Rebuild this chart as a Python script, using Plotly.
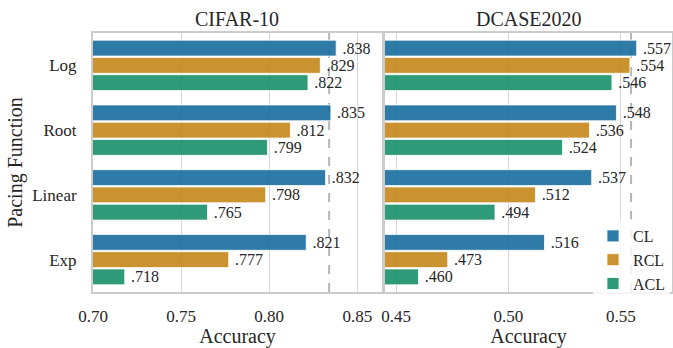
import plotly.graph_objects as go

# Accuracy per pacing function, for each training strategy
pacing = ["Log", "Root", "Linear", "Exp"]
series = ["CL", "RCL", "ACL"]

cifar_cl = [0.838, 0.835, 0.832, 0.821]
cifar_rcl = [0.829, 0.812, 0.798, 0.777]
cifar_acl = [0.822, 0.799, 0.765, 0.718]

dcase_cl = [0.557, 0.548, 0.537, 0.516]
dcase_rcl = [0.554, 0.536, 0.512, 0.473]
dcase_acl = [0.546, 0.524, 0.494, 0.460]

# Baseline accuracy (dashed reference line) per dataset
baseline = [0.834, 0.5545]

cifar_ticks = [0.70, 0.75, 0.80, 0.85]
dcase_ticks = [0.45, 0.50, 0.55]

colors = ["rgba(23,109,158,0.9)", "rgba(197,134,26,0.9)", "rgba(23,143,105,0.9)"]
FONT = "Liberation Serif"
TXT = "#262626"
GRID = "#d5d5d5"
FRAME = "#cccccc"


def lab(v):
    # ".838" style, with a small lead-in gap from the bar end
    return "\u2009" + f"{v:.3f}".lstrip("0")


fig = go.Figure()

panels = [
    ("x", "y", [cifar_cl, cifar_rcl, cifar_acl]),
    ("x2", "y2", [dcase_cl, dcase_rcl, dcase_acl]),
]
for p, (xa, ya, vals) in enumerate(panels):
    for name, v, c in zip(series, vals, colors):
        fig.add_trace(go.Bar(
            x=v, y=pacing, name=name, orientation="h",
            xaxis=xa, yaxis=ya,
            marker=dict(color=c, line=dict(color="white", width=0.8)),
            text=[lab(a) for a in v], textposition="outside",
            textfont=dict(family=FONT, size=16, color=TXT),
            constraintext="none", cliponaxis=False,
            showlegend=(p == 1), legendgroup=name,
            offsetgroup=name,
        ))

W, H = 673, 348
xd1 = [93 / W, 382 / W]
xd2 = [385 / W, 672 / W]
yd = [(H - 292) / H, (H - 33) / H]

common_x = dict(
    showgrid=True, gridcolor=GRID, gridwidth=1.3,
    showline=True, linecolor=FRAME, linewidth=2, mirror=True,
    zeroline=False, ticks="", tickformat=".2f", automargin=False,
    tickfont=dict(family=FONT, size=17, color=TXT),
    ticklabelstandoff=8,
    title=dict(text="Accuracy", font=dict(family=FONT, size=20, color=TXT), standoff=2),
)
common_y = dict(
    type="category", categoryorder="array", categoryarray=pacing,
    range=[3.5, -0.5], showgrid=False, automargin=False,
    showline=True, linecolor=FRAME, linewidth=2, mirror=True,
    ticks="", domain=yd,
)

fig.update_layout(
    width=W, height=H,
    margin=dict(l=0, r=0, t=0, b=0, autoexpand=False),
    paper_bgcolor="white", plot_bgcolor="white",
    barmode="group", bargap=0.2, bargroupgap=0.08,
    font=dict(family=FONT, color=TXT),
    xaxis=dict(common_x, domain=xd1, anchor="y", range=[0.70, 0.864], tickvals=cifar_ticks),
    xaxis2=dict(common_x, domain=xd2, anchor="y2", range=[0.4451, 0.5727], tickvals=dcase_ticks),
    yaxis=dict(common_y, anchor="x",
               tickfont=dict(family=FONT, size=17, color=TXT), ticklabelstandoff=11,
               title=dict(text="Pacing Function", font=dict(family=FONT, size=20, color=TXT), standoff=4)),
    yaxis2=dict(common_y, anchor="x2", showticklabels=False),
    legend=dict(
        x=593 / W, y=(H - 219) / H, xanchor="left", yanchor="top",
        bgcolor="rgba(255,255,255,0.8)", borderwidth=0,
        font=dict(family=FONT, size=16, color=TXT),
        tracegroupgap=0, itemwidth=30,
    ),
)

# Dataset titles
for name, d in [("CIFAR-10", xd1), ("DCASE2020", xd2)]:
    fig.add_annotation(
        text=name, xref="paper", yref="paper",
        x=(d[0] + d[1]) / 2, y=(H - 19) / H, showarrow=False,
        xanchor="center", yanchor="middle",
        font=dict(family=FONT, size=20, color=TXT),
    )

# Baseline reference lines
for xr, yr, b in [("x", "y domain", baseline[0]), ("x2", "y2 domain", baseline[1])]:
    fig.add_shape(
        type="line", xref=xr, yref=yr, x0=b, x1=b, y0=0, y1=1,
        line=dict(color="#b5b5b5", width=2, dash="dash"), layer="below",
    )

fig.write_html("out.html")
